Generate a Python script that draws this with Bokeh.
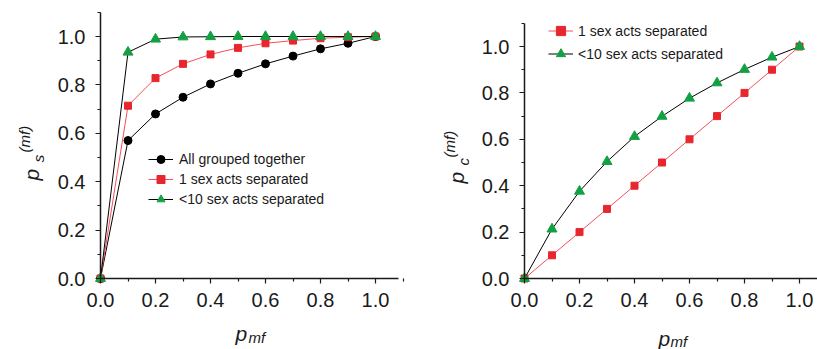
import math
from bokeh.plotting import figure
from bokeh.models import FixedTicker, Legend, LegendItem, Label, Range1d
from bokeh.layouts import row
from bokeh.embed import file_html
from bokeh.resources import INLINE

# ---- data ----
pmf = [0.0, 0.1, 0.2, 0.3, 0.4, 0.5, 0.6, 0.7, 0.8, 0.9, 1.0]
ps_all = [0.0, 0.570, 0.680, 0.749, 0.804, 0.848, 0.887, 0.919, 0.949, 0.972, 1.0]
ps_one = [0.0, 0.714, 0.828, 0.887, 0.926, 0.953, 0.972, 0.983, 0.993, 0.997, 1.0]
ps_ten = [0.0, 0.935, 0.989, 0.998, 0.999, 1.0, 1.0, 1.0, 1.0, 1.0, 1.0]
pc_one = [0.0, 0.10, 0.20, 0.30, 0.40, 0.50, 0.60, 0.70, 0.80, 0.90, 1.0]
pc_ten = [0.0, 0.213, 0.376, 0.504, 0.612, 0.699, 0.777, 0.843, 0.901, 0.954, 1.0]
major_ticks = [0.0, 0.2, 0.4, 0.6, 0.8, 1.0]
minor_ticks = [0.1, 0.3, 0.5, 0.7, 0.9, 1.1]
lab_all = "All grouped together"
lab_one = "1 sex acts separated"
lab_ten = "<10 sex acts separated"

FONT = "Liberation Sans"
RED = "#e8262d"
RED_LINE = "#f0505a"
GREEN = "#12a043"
INK = "#1a1a1a"


def style(p, xb, yb):
    p.outline_line_color = None
    p.xgrid.visible = False
    p.ygrid.visible = False
    p.background_fill_color = "white"
    p.border_fill_color = "white"
    p.xaxis[0].fixed_location = 0
    p.yaxis[0].fixed_location = 0
    p.xaxis[0].bounds = xb
    p.yaxis[0].bounds = yb
    p.xaxis[0].major_label_standoff = 9
    p.yaxis[0].major_label_standoff = 10
    for ax in (p.xaxis[0], p.yaxis[0]):
        ax.ticker = FixedTicker(ticks=major_ticks, minor_ticks=minor_ticks)
        ax.axis_line_width = 1.5
        ax.axis_line_color = INK
        ax.major_tick_line_color = INK
        ax.minor_tick_line_color = INK
        ax.major_tick_line_width = 1.2
        ax.minor_tick_line_width = 1.2
        ax.major_tick_out = 5
        ax.major_tick_in = 0
        ax.minor_tick_out = 3
        ax.minor_tick_in = 0
        ax.major_label_text_font = FONT
        ax.major_label_text_font_size = "20px"
        ax.major_label_text_color = INK
        ax.major_label_overrides = {t: f"{t:.1f}" for t in major_ticks}


def add_label(p, x, y, text, size, angle=0.0):
    p.add_layout(Label(x=x, y=y, text=text, text_font=FONT, text_font_style="italic",
                       text_font_size=size, text_color=INK, text_align="left",
                       text_baseline="alphabetic", angle=angle))


# ---- left panel (frame = whole canvas; axes fixed at 0) ----
p1 = figure(width=408, height=349, output_backend="svg", toolbar_location=None,
            title=None, x_range=Range1d(-100 / 275, 308 / 275),
            y_range=Range1d(-71 / 242, 278 / 242),
            min_border_left=0, min_border_right=0, min_border_top=0, min_border_bottom=0)
style(p1, (0, 1.0836), (0, 1.1))
l_all = p1.line(pmf, ps_all, color="black", line_width=1)
m_all = p1.scatter(pmf, ps_all, marker="circle", size=8, fill_color="black", line_color="black")
l_one = p1.line(pmf, ps_one, color=RED_LINE, line_width=1)
m_one = p1.scatter(pmf, ps_one, marker="square", size=7, fill_color=RED, line_color=RED)
l_ten = p1.line(pmf, ps_ten, color="black", line_width=1)
m_ten = p1.scatter(pmf, ps_ten, marker="triangle", size=10, fill_color=GREEN, line_color=GREEN)

leg1 = Legend(items=[LegendItem(label=lab_all, renderers=[l_all, m_all]),
                     LegendItem(label=lab_one, renderers=[l_one, m_one]),
                     LegendItem(label=lab_ten, renderers=[l_ten, m_ten])],
              location=(148, 140), padding=0, margin=0, spacing=0,
              glyph_width=25, glyph_height=20, label_height=20, label_standoff=6,
              label_text_font=FONT, label_text_font_size="14px", label_text_color=INK,
              border_line_color=None, background_fill_alpha=0)
p1.add_layout(leg1)

add_label(p1, 0.491, -0.227, "p", "21px")
add_label(p1, 0.538, -0.244, "mf", "15px")
add_label(p1, -0.2509, 0.405, "p", "21px", math.pi / 2)
add_label(p1, -0.2255, 0.480, "s", "15px", math.pi / 2)
add_label(p1, -0.2764, 0.521, "(mf)", "15px", math.pi / 2)

# ---- right panel ----
p2 = figure(width=409, height=349, output_backend="svg", toolbar_location=None,
            title=None, x_range=Range1d(-116 / 275, 293 / 275),
            y_range=Range1d(-71 / 232, 278 / 232),
            min_border_left=0, min_border_right=0, min_border_top=0, min_border_bottom=0)
style(p2, (0, 1.0655), (0, 1.1))
r_one = p2.line(pmf, pc_one, color=RED_LINE, line_width=1)
rm_one = p2.scatter(pmf, pc_one, marker="square", size=7, fill_color=RED, line_color=RED)
r_ten = p2.line(pmf, pc_ten, color="black", line_width=1)
rm_ten = p2.scatter(pmf, pc_ten, marker="triangle", size=10, fill_color=GREEN, line_color=GREEN)

leg2 = Legend(items=[LegendItem(label=lab_one, renderers=[r_one, rm_one]),
                     LegendItem(label=lab_ten, renderers=[r_ten, rm_ten])],
              location=(140, 284), padding=0, margin=0, spacing=0,
              glyph_width=25, glyph_height=23, label_height=23, label_standoff=5,
              label_text_font=FONT, label_text_font_size="14px", label_text_color=INK,
              border_line_color=None, background_fill_alpha=0)
p2.add_layout(leg2)

add_label(p2, 0.487, -0.2586, "p", "21px")
add_label(p2, 0.531, -0.2716, "mf", "15px")
add_label(p2, -0.2473, 0.4095, "p", "21px", math.pi / 2)
add_label(p2, -0.2218, 0.4870, "c", "15px", math.pi / 2)
add_label(p2, -0.2727, 0.5215, "(mf)", "15px", math.pi / 2)

layout = row(p1, p2, spacing=0)
open("out.html", "w").write(file_html(layout, INLINE))
